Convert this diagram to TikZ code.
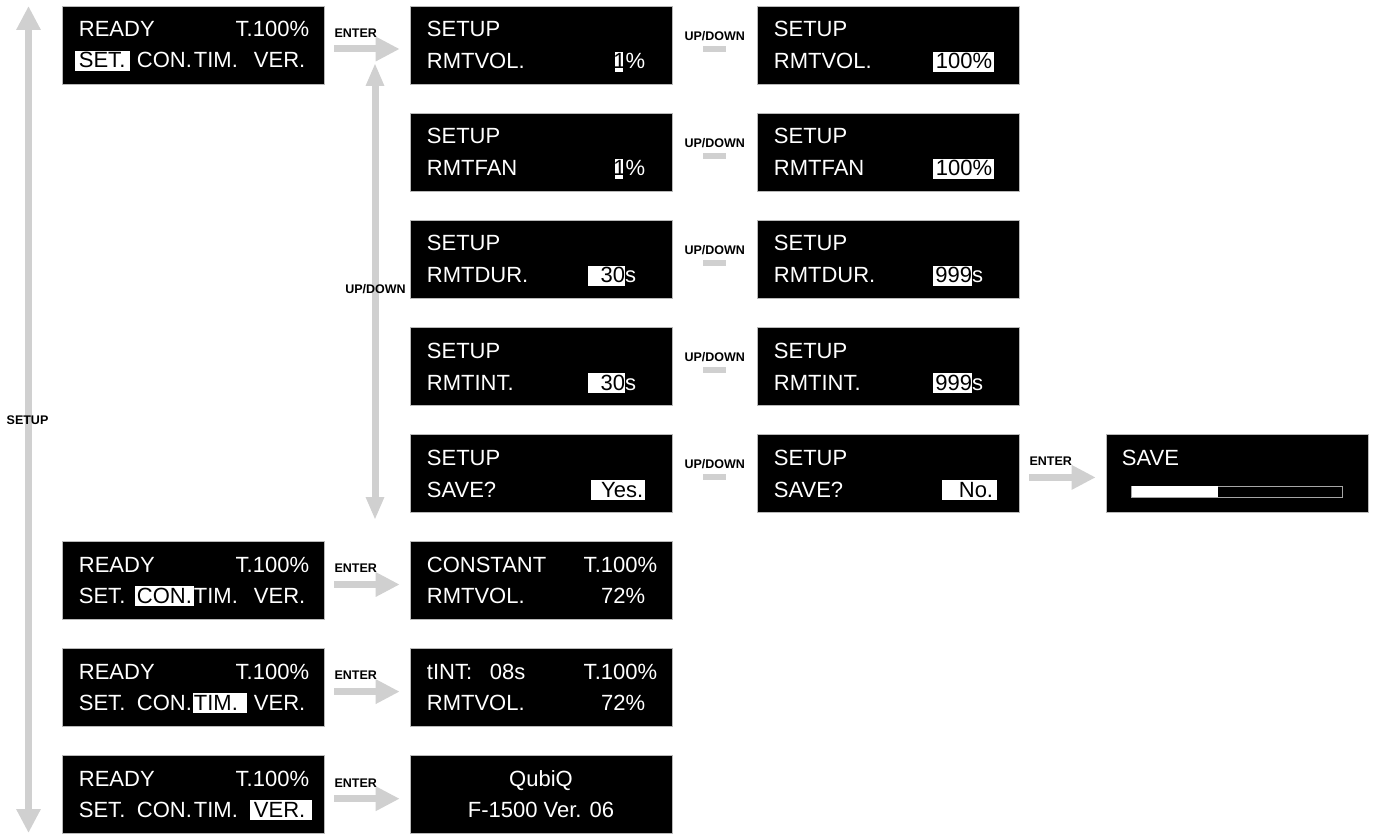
\documentclass[tikz,border=0pt]{standalone}
\usepackage{fontspec}
\setmainfont{Liberation Sans}
\usetikzlibrary{arrows.meta}
\definecolor{arr}{RGB}{208,208,208}
\newcommand\hlx[3]{\kern-#1\relax{\setlength\fboxsep{0pt}\colorbox{white}{\hspace{#1}\rule[-3pt]{0pt}{20pt}\textcolor{black}{#3}\hspace{#2}}}\kern-#2\relax}
\newcommand\hl[1]{\hlx{4pt}{4pt}{#1}}
\begin{document}
\begin{tikzpicture}[x=1pt,y=-1pt,
  lcd/.style={fill=black, draw=gray!55, line width=0.6pt, minimum width=262pt, minimum height=78pt, inner sep=0pt},
  t/.style={inner sep=0pt, text=white, font=\fontsize{22}{24}\selectfont},
  lab/.style={inner sep=0pt, text=black, font=\fontsize{12.5}{14}\selectfont\bfseries},
  bigarrow/.style={draw=arr, line width=7pt, shorten <=10pt, shorten >=10pt, -{Triangle[width=23pt,length=24pt]}},
  vert/.style={draw=arr, line width=7pt, {Triangle[width=17pt,length=23pt]}-{Triangle[width=17pt,length=23pt]}},
  side/.style={draw=arr, line width=7pt, {Triangle[width=23pt,length=24pt]}-{Triangle[width=23pt,length=24pt]}},
  dashbar/.style={draw=arr, line width=6pt, shorten <=31pt, shorten >=31pt},
  tl/.style={t, anchor=base west},
  tr/.style={t, anchor=base east},
]
\useasboundingbox (0,0) rectangle (1375,834);

% ---------- boxes ----------
\node[lcd] (a1) at (193,45) {};
\node[lcd] (b1) at (541,45) {};
\node[lcd] (c1) at (888,45) {};
\node[lcd] (b2) at (541,152.1) {};
\node[lcd] (c2) at (888,152.1) {};
\node[lcd] (b3) at (541,259.2) {};
\node[lcd] (c3) at (888,259.2) {};
\node[lcd] (b4) at (541,366.3) {};
\node[lcd] (c4) at (888,366.3) {};
\node[lcd] (b5) at (541,473.4) {};
\node[lcd] (c5) at (888,473.4) {};
\node[lcd] (s5) at (1237,473.4) {};
\node[lcd] (a6) at (193,580.5) {};
\node[lcd] (b6) at (541,580.5) {};
\node[lcd] (a7) at (193,687.6) {};
\node[lcd] (b7) at (541,687.6) {};
\node[lcd] (a8) at (193,794.7) {};
\node[lcd] (b8) at (541,794.7) {};

% ---------- left column texts ----------
\foreach \b in {a1,a6,a7,a8}{
  \node[tl] (\b r) at ([shift={(17,31)}]\b.north west) {READY};
  \node[tr] (\b t) at ([shift={(-15,31)}]\b.north east) {T.100\%};
}
\node[tl] (a1s) at ([shift={(17,62)}]a1.north west) {\hlx{4pt}{5pt}{SET.}};
\node[tl] (a1c) at ([shift={(75,62)}]a1.north west) {CON.};
\node[tl] (a1m) at ([shift={(132,62)}]a1.north west) {TIM.};
\node[tl] (a1v) at ([shift={(192,62)}]a1.north west) {VER.};

\node[tl] (a6s) at ([shift={(17,62)}]a6.north west) {SET.};
\node[tl] (a6c) at ([shift={(75,62)}]a6.north west) {\hlx{2pt}{2pt}{CON.}};
\node[tl] (a6m) at ([shift={(132,62)}]a6.north west) {TIM.};
\node[tl] (a6v) at ([shift={(192,62)}]a6.north west) {VER.};

\node[tl] (a7s) at ([shift={(17,62)}]a7.north west) {SET.};
\node[tl] (a7c) at ([shift={(75,62)}]a7.north west) {CON.};
\node[tl] (a7m) at ([shift={(132,62)}]a7.north west) {\hlx{1pt}{9pt}{TIM.}};
\node[tl] (a7v) at ([shift={(192,62)}]a7.north west) {VER.};

\node[tl] (a8s) at ([shift={(17,62)}]a8.north west) {SET.};
\node[tl] (a8c) at ([shift={(75,62)}]a8.north west) {CON.};
\node[tl] (a8m) at ([shift={(132,62)}]a8.north west) {TIM.};
\node[tl] (a8v) at ([shift={(192,62)}]a8.north west) {\hlx{4pt}{7pt}{VER.}};

% ---------- setup column ----------
\foreach \b in {b1,b2,b3,b4,b5,c1,c2,c3,c4,c5}{
  \node[tl] (\b h) at ([shift={(17,31)}]\b.north west) {SETUP};
}
\node[tl] (b1n) at ([shift={(17,63)}]b1.north west) {RMTVOL.};
\node[tr] (b1v) at ([shift={(-27,63)}]b1.north east) {\hlx{-1.5pt}{-2.5pt}{1}\%};
\node[tl] (c1n) at ([shift={(17,63)}]c1.north west) {RMTVOL.};
\node[tr] (c1v) at ([shift={(-27,63)}]c1.north east) {\hlx{3pt}{2pt}{100\%}};

\node[tl] (b2n) at ([shift={(17,63)}]b2.north west) {RMTFAN};
\node[tr] (b2v) at ([shift={(-27,63)}]b2.north east) {\hlx{-1.5pt}{-2.5pt}{1}\%};
\node[tl] (c2n) at ([shift={(17,63)}]c2.north west) {RMTFAN};
\node[tr] (c2v) at ([shift={(-27,63)}]c2.north east) {\hlx{3pt}{2pt}{100\%}};

\node[tl] (b3n) at ([shift={(17,63)}]b3.north west) {RMTDUR.};
\node[tr] (b3v) at ([shift={(-36,63)}]b3.north east) {\hlx{13pt}{0pt}{30}s};
\node[tl] (c3n) at ([shift={(17,63)}]c3.north west) {RMTDUR.};
\node[tr] (c3v) at ([shift={(-36,63)}]c3.north east) {\hlx{2pt}{0pt}{999}s};

\node[tl] (b4n) at ([shift={(17,63)}]b4.north west) {RMTINT.};
\node[tr] (b4v) at ([shift={(-36,63)}]b4.north east) {\hlx{13pt}{0pt}{30}s};
\node[tl] (c4n) at ([shift={(17,63)}]c4.north west) {RMTINT.};
\node[tr] (c4v) at ([shift={(-36,63)}]c4.north east) {\hlx{2pt}{0pt}{999}s};

\node[tl] (b5n) at ([shift={(17,63)}]b5.north west) {SAVE?};
\node[tr] (b5v) at ([shift={(-29,63)}]b5.north east) {\hlx{10pt}{2pt}{Yes.}};
\node[tl] (c5n) at ([shift={(17,63)}]c5.north west) {SAVE?};
\node[tr] (c5v) at ([shift={(-26,63)}]c5.north east) {\hlx{17pt}{4pt}{No.}};

% SAVE box
\node[tl] (s5h) at ([shift={(16,31)}]s5.north west) {SAVE};
\draw[draw=gray!70, line width=0.8pt] ([shift={(26,52)}]s5.north west) rectangle ([shift={(-26,63)}]s5.north east);
\fill[white] ([shift={(26,52)}]s5.north west) rectangle ([shift={(112,63)}]s5.north west);

% ---------- result boxes ----------
\node[tl] (b6h) at ([shift={(17,31)}]b6.north west) {CONSTANT};
\node[tr] (b6t) at ([shift={(-15,31)}]b6.north east) {T.100\%};
\node[tl] (b6n) at ([shift={(17,62)}]b6.north west) {RMTVOL.};
\node[tr] (b6v) at ([shift={(-27,62)}]b6.north east) {72\%};

\node[tl] (b7h) at ([shift={(17,31)}]b7.north west) {tINT:};
\node[tl] (b7d) at ([shift={(80,31)}]b7.north west) {08s};
\node[tr] (b7t) at ([shift={(-15,31)}]b7.north east) {T.100\%};
\node[tl] (b7n) at ([shift={(17,62)}]b7.north west) {RMTVOL.};
\node[tr] (b7v) at ([shift={(-27,62)}]b7.north east) {72\%};

\node[t, anchor=base] (b8h) at ([yshift=-31pt]b8.north) {QubiQ};
\node[t, anchor=base] (b8v) at ([yshift=-62pt]b8.north) {F-1500 Ver. 06};

% ---------- connectors ----------
\foreach \p/\q in {a1/b1,c5/s5,a6/b6,a7/b7,a8/b8}{
  \draw[bigarrow] ([yshift=-4pt]\p.east) -- ([yshift=-4pt]\q.west);
  \node[lab, anchor=west] (e\p) at ([shift={(10,-12)}]\p.east) {ENTER};
}
\foreach \p/\q in {b1/c1,b2/c2,b3/c3,b4/c4,b5/c5}{
  \draw[dashbar] ([yshift=-4pt]\p.east) -- ([yshift=-4pt]\q.west);
  \node[lab] (u\p) at ([shift={(42.5,-9)}]\p.east) {UP/DOWN};
}

\coordinate (vt) at (375,63);
\coordinate (vb) at (375,520);
\draw[vert] (vt) -- (vb);
\node[lab] (vlab) at (375.5,289) {UP/DOWN};

\coordinate (st) at (28.5,6);
\coordinate (sb) at (28.5,833);
\draw[side] (st) -- (sb);
\node[lab] (slab) at (27.5,420) {SETUP};
\end{tikzpicture}
\end{document}
